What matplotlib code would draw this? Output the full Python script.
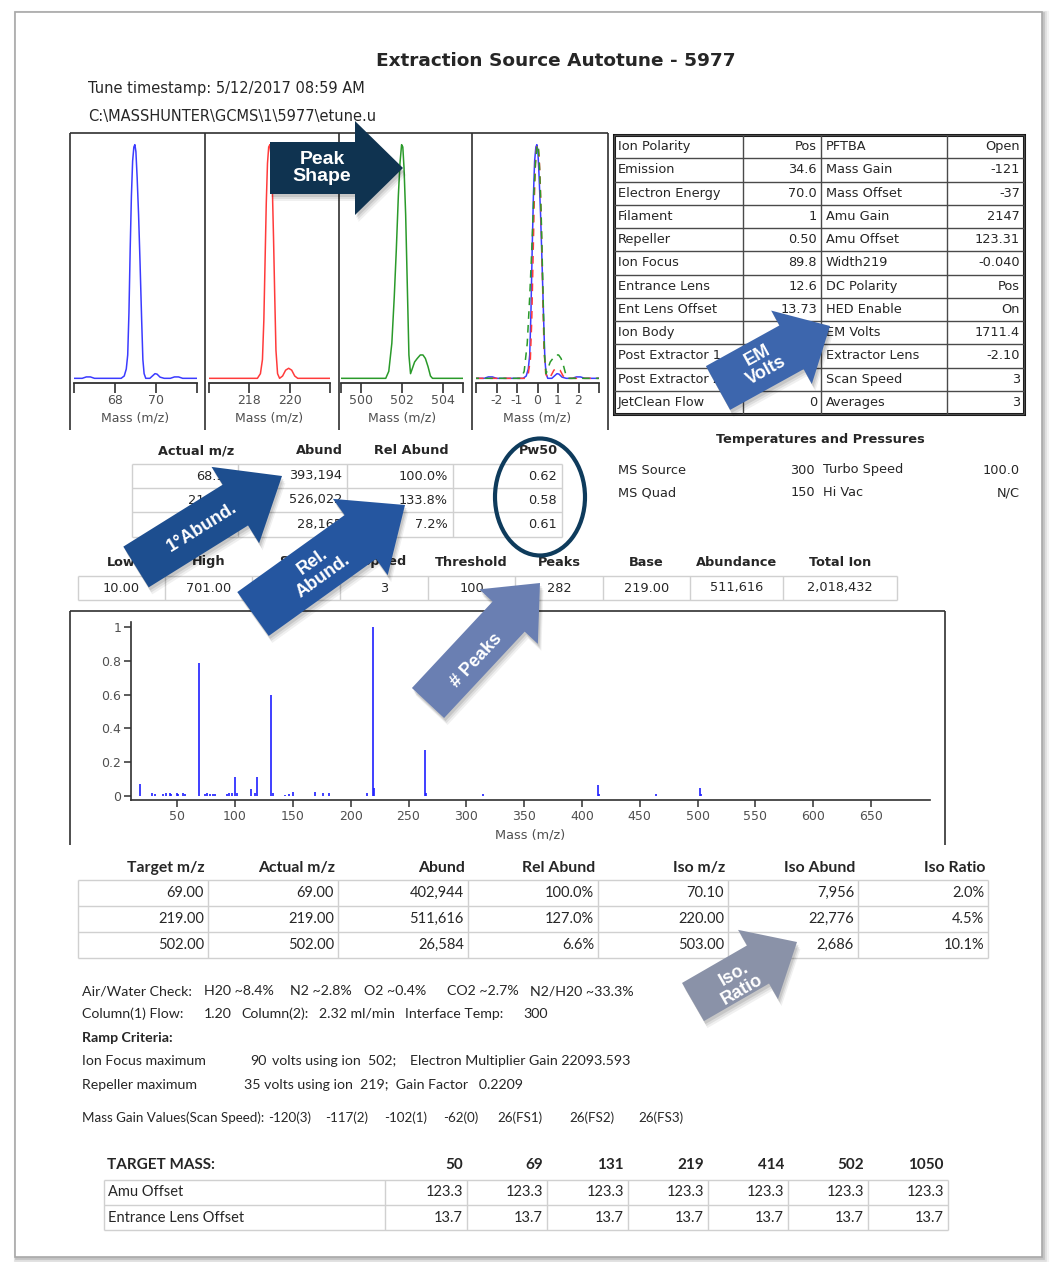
import matplotlib.pyplot as plt
import numpy as np
from matplotlib.patches import Polygon, Ellipse, Rectangle

W, H = 1050, 1262

title = "Extraction Source Autotune - 5977"
tune_stamp = "Tune timestamp: 5/12/2017 08:59 AM"
tune_file = "C:\\MASSHUNTER\\GCMS\\1\\5977\\etune.u"

# peak profiles (mass, normalized intensity)
mz69 = [66.0, 66.4, 66.6, 66.8, 67.0, 67.6, 68.0, 68.3, 68.45, 68.55, 68.62, 68.68, 68.74, 68.8,
        68.86, 68.92, 68.97, 69.02, 69.08, 69.15, 69.22, 69.3, 69.36, 69.42, 69.5, 69.7, 69.85,
        69.95, 70.05, 70.2, 70.4, 70.7, 70.9, 71.1, 71.3, 72.0]
y69 = [0, 0, 0.006, 0.006, 0, 0, 0, 0, 0.01, 0.04, 0.1, 0.28, 0.55, 0.78, 0.93, 0.99, 1.0, 0.97,
       0.86, 0.7, 0.5, 0.25, 0.08, 0.02, 0, 0, 0.012, 0.02, 0.018, 0.005, 0, 0, 0.006, 0.006, 0, 0]

mz219 = [216.0, 216.5, 217.0, 217.5, 218.0, 218.4, 218.55, 218.65, 218.72, 218.78, 218.84, 218.9,
         218.96, 219.02, 219.08, 219.14, 219.2, 219.26, 219.32, 219.4, 219.5, 219.65, 219.8, 219.95,
         220.1, 220.25, 220.4, 220.8, 221.2, 222.0]
y219 = [0, 0, 0, 0, 0, 0, 0.02, 0.08, 0.25, 0.5, 0.75, 0.92, 0.99, 1.0, 0.95, 0.82, 0.6, 0.35, 0.12,
        0.02, 0, 0.01, 0.035, 0.043, 0.035, 0.01, 0, 0, 0, 0]

mz502 = [499.0, 499.5, 500.0, 500.5, 501.0, 501.2, 501.35, 501.5, 501.62, 501.72, 501.82, 501.9,
         501.98, 502.04, 502.1, 502.18, 502.26, 502.34, 502.42, 502.5, 502.62, 502.75, 502.9, 503.03,
         503.15, 503.28, 503.4, 503.5, 504.0, 504.5, 505.0]
y502 = [0, 0, 0, 0, 0, 0, 0.03, 0.15, 0.35, 0.55, 0.78, 0.92, 1.0, 0.99, 0.9, 0.7, 0.4, 0.1, 0.02,
        0.04, 0.07, 0.085, 0.1, 0.1, 0.085, 0.05, 0.01, 0, 0, 0, 0]

target_masses = [69, 219, 502]

# scan spectrum
spec_mz = [18, 28, 31, 38, 40, 44, 45, 50, 51, 55, 57, 69, 74, 76, 78, 81, 83, 93, 95, 97, 100,
           102, 114, 117, 119, 131, 133, 143, 147, 150, 169, 176, 181, 214, 219, 220, 264, 265,
           314, 414, 415, 464, 502, 503]
spec_y = [0.07, 0.02, 0.01, 0.012, 0.015, 0.018, 0.01, 0.02, 0.012, 0.015, 0.012, 0.79, 0.012,
          0.015, 0.01, 0.012, 0.01, 0.01, 0.015, 0.02, 0.11, 0.02, 0.04, 0.015, 0.11, 0.60, 0.02,
          0.008, 0.01, 0.025, 0.025, 0.015, 0.015, 0.015, 1.0, 0.045, 0.27, 0.02, 0.01, 0.065,
          0.01, 0.01, 0.047, 0.01]

# tune parameters (values hidden under the arrow left blank)
tune_names_l = ["Ion Polarity", "Emission", "Electron Energy", "Filament", "Repeller", "Ion Focus",
                "Entrance Lens", "Ent Lens Offset", "Ion Body", "Post Extractor 1",
                "Post Extractor 2", "JetClean Flow"]
tune_vals_l = ["Pos", "34.6", "70.0", "1", "0.50", "89.8", "12.6", "13.73", "", "", "", "0"]
tune_names_r = ["PFTBA", "Mass Gain", "Mass Offset", "Amu Gain", "Amu Offset", "Width219",
                "DC Polarity", "HED Enable", "EM Volts", "Extractor Lens", "Scan Speed", "Averages"]
tune_vals_r = ["Open", "-121", "-37", "2147", "123.31", "-0.040", "Pos", "On", "1711.4", "-2.10",
               "3", "3"]

temp_names = ["MS Source", "MS Quad"]
temp_vals = ["300", "150"]
press_names = ["Turbo Speed", "Hi Vac"]
press_vals = ["100.0", "N/C"]

peak_headers = ["Actual m/z", "Abund", "Rel Abund", "Pw50"]
peak_actual = ["68.95", "218.95", "501.95"]
peak_abund = ["393,194", "526,022", "28,165"]
peak_rel = ["100.0%", "133.8%", "7.2%"]
peak_pw50 = ["0.62", "0.58", "0.61"]

scan_headers = ["Low", "High", "Step", "Speed", "Threshold", "Peaks", "Base", "Abundance", "Total Ion"]
scan_vals = ["10.00", "701.00", "0.10", "3", "100", "282", "219.00", "511,616", "2,018,432"]

iso_headers = ["Target m/z", "Actual m/z", "Abund", "Rel Abund", "Iso m/z", "Iso Abund", "Iso Ratio"]
iso_rows = [
    ["69.00", "69.00", "402,944", "100.0%", "70.10", "7,956", "2.0%"],
    ["219.00", "219.00", "511,616", "127.0%", "220.00", "22,776", "4.5%"],
    ["502.00", "502.00", "26,584", "6.6%", "503.00", "2,686", "10.1%"],
]

target_mass = ["50", "69", "131", "219", "414", "502", "1050"]
amu_offset = ["123.3"] * 7
ent_lens_offset = ["13.7"] * 7

UP = "DejaVu Sans"
LOW = "Lato"
INK = "#262626"
FS = 9.3
LFS = 10.2

fig = plt.figure(figsize=(W / 100, H / 100), dpi=100)
fig.patch.set_facecolor("white")
page = fig.add_axes([0, 0, 1, 1])
page.set_xlim(0, W)
page.set_ylim(H, 0)
page.axis("off")


def px_axes(x0, y0, x1, y1):
    ax = fig.add_axes([x0 / W, 1 - y1 / H, (x1 - x0) / W, (y1 - y0) / H])
    ax.set_facecolor("none")
    return ax


def txt(x, y, s, ha="left", size=FS, weight="normal", family=UP, color=INK):
    page.text(x, y, s, ha=ha, va="center", fontsize=size, fontweight=weight,
              family=family, color=color)


def hline(x0, x1, y, color, lw=1.0):
    page.plot([x0, x1], [y, y], color=color, lw=lw, solid_capstyle="butt")


def vline(x, y0, y1, color, lw=1.0):
    page.plot([x, x], [y0, y1], color=color, lw=lw, solid_capstyle="butt")


def grid(xs, ys, color="#d0d0d0", lw=1.0):
    for x in xs:
        vline(x, ys[0], ys[-1], color, lw)
    for y in ys:
        hline(xs[0], xs[-1], y, color, lw)


# page with shadow
for k, a in [(6, 0.05), (4, 0.08), (2, 0.12)]:
    page.add_patch(Rectangle((15 + k * 0.5, 12 + k * 0.5), 1027, 1245, fc="none",
                             ec="black", lw=k, alpha=a))
page.add_patch(Rectangle((15, 12), 1027, 1245, fc="white", ec="#a8a8a8", lw=1.2))

# header
txt(556, 61, title, ha="center", size=13.3, weight="bold")
txt(88, 89, tune_stamp, size=10.5)
txt(88, 116, tune_file, size=10.5)

# ---- peak shape panels ----
hline(70, 608, 133, "#303030", 1.2)
for x in [70, 205, 339, 472, 608]:
    vline(x, 133, 430, "#303030", 1.2)

profiles = [(mz69, y69, "#3b3bff"), (mz219, y219, "#ff3b3b"), (mz502, y502, "#2a9a2a")]
panel_px = [(74, 197), (209, 330), (341, 463), (476, 599)]
panel_lim = [(66, 72), (216, 222), (499, 505), (-3, 3)]
panel_ticks = [[66, 68, 70, 72], [216, 218, 220, 222], [499, 500, 502, 504, 505],
               [-3, -2, -1, 0, 1, 2, 3]]
panel_labels = [["", "68", "70", ""], ["", "218", "220", ""], ["", "500", "502", "504", ""],
                ["", "-2", "-1", "0", "1", "2", ""]]

for i, (x0, x1) in enumerate(panel_px):
    ax = px_axes(x0, 140, x1, 383)
    if i < 3:
        mz, yy, c = profiles[i]
        ax.plot(mz, yy, color=c, lw=1.1)
    else:
        styles = ["-", (0, (5, 4)), (3, (5, 4))]
        for (mz, yy, c), tm, ls in zip(profiles, target_masses, styles):
            ax.plot(np.array(mz) - tm, yy, color=c, lw=1.1, ls=ls)
    ax.set_xlim(*panel_lim[i])
    ax.set_ylim(-0.02, 1.02)
    ax.set_yticks([])
    ax.set_xticks(panel_ticks[i])
    ax.set_xticklabels(panel_labels[i])
    for s in ["top", "left", "right"]:
        ax.spines[s].set_visible(False)
    ax.spines["bottom"].set_color("#303030")
    ax.spines["bottom"].set_linewidth(1.3)
    ax.tick_params(axis="x", length=7, width=1.2, color="#303030", labelsize=9,
                   labelcolor="#505050", pad=1)
    ax.set_xlabel("Mass (m/z)", fontsize=9, color="#505050", labelpad=3)

# ---- tune parameter table ----
tx = [614, 743, 821, 947, 1024]
ty = [135 + 23.25 * i for i in range(13)]
grid(tx, ty, color="#4a4a4a", lw=1.0)
page.add_patch(Rectangle((614, 135), 410, 279, fc="none", ec="#111111", lw=2.2))
for i in range(12):
    yc = (ty[i] + ty[i + 1]) / 2
    txt(tx[0] + 4, yc, tune_names_l[i])
    txt(tx[2] - 4, yc, tune_vals_l[i], ha="right")
    txt(tx[2] + 5, yc, tune_names_r[i])
    txt(tx[4] - 4, yc, tune_vals_r[i], ha="right")

# temperatures and pressures
txt(820, 439, "Temperatures and Pressures", ha="center", weight="bold")
for i, yc in enumerate([470, 493]):
    txt(618, yc, temp_names[i])
    txt(815, yc, temp_vals[i], ha="right")
    txt(823, yc, press_names[i])
    txt(1020, yc, press_vals[i], ha="right")

# ---- peak table ----
px = [132, 238, 347, 453, 562]
py = [464, 488, 512, 537]
grid(px, py)
for j, h in enumerate(peak_headers):
    txt(px[j + 1] - 4, 451, h, ha="right", weight="bold")
for i in range(3):
    yc = (py[i] + py[i + 1]) / 2
    for j, col in enumerate([peak_actual, peak_abund, peak_rel, peak_pw50]):
        txt(px[j + 1] - 5, yc, col[i], ha="right")

# ---- scan parameter table ----
sx = [78, 165, 252, 340, 428, 515, 603, 690, 783, 897]
sy = [576, 600]
grid(sx, sy)
for j in range(9):
    xc = (sx[j] + sx[j + 1]) / 2
    txt(xc, 562, scan_headers[j], ha="center", weight="bold")
    txt(xc, 588, scan_vals[j], ha="center")

# ---- spectrum ----
hline(70, 945, 611, "#303030", 1.2)
vline(70, 611, 845, "#303030", 1.2)
vline(945, 611, 845, "#303030", 1.2)
ax = px_axes(131, 622, 930, 800)
ax.vlines(spec_mz, 0, spec_y, color="#1f1fff", lw=1.2)
ax.set_xlim(10, 701)
ax.set_ylim(-0.024, 1.03)
ax.set_xticks(range(50, 700, 50))
ax.set_yticks([0, 0.2, 0.4, 0.6, 0.8, 1.0])
ax.set_yticklabels(["0", "0.2", "0.4", "0.6", "0.8", "1"])
for s in ["top", "right"]:
    ax.spines[s].set_visible(False)
for s in ["left", "bottom"]:
    ax.spines[s].set_color("#303030")
    ax.spines[s].set_linewidth(1.2)
ax.tick_params(length=5, width=1.1, color="#303030", labelsize=9, labelcolor="#505050", pad=2)
ax.set_xlabel("Mass (m/z)", fontsize=9.3, color="#505050", labelpad=4)

# ---- isotope table ----
ix = [78, 208, 338, 468, 598, 728, 858, 988]
iy = [880, 906, 932, 958]
grid(ix, iy)
for j, h in enumerate(iso_headers):
    txt(ix[j + 1] - 3, 868, h, ha="right", weight="bold", family=LOW, size=11.3)
for i, row in enumerate(iso_rows):
    yc = (iy[i] + iy[i + 1]) / 2
    for j, v in enumerate(row):
        txt(ix[j + 1] - 4, yc, v, ha="right", family=LOW, size=10.5)

# ---- text block ----
text_lines = [
    (991, LFS, [(82, "Air/Water Check:"), (204, "H20 ~8.4%"), (290, "N2 ~2.8%"),
                (364, "O2 ~0.4%"), (447, "CO2 ~2.7%"), (530, "N2/H20 ~33.3%")]),
    (1014, LFS, [(82, "Column(1) Flow:"), (204, "1.20"), (241, "Column(2):"),
                 (319, "2.32 ml/min"), (405, "Interface Temp:"), (523, "300")]),
    (1061, LFS, [(82, "Ion Focus maximum"), (250, "90"), (272, "volts using ion  502;"),
                 (410, "Electron Multiplier Gain 22093.593")]),
    (1085, LFS, [(82, "Repeller maximum"),
                 (244, "35 volts using ion  219;  Gain Factor   0.2209")]),
    (1118, 9.6, [(82, "Mass Gain Values(Scan Speed):"), (268, "-120(3)"), (325, "-117(2)"),
                 (384, "-102(1)"), (443, "-62(0)"), (497, "26(FS1)"), (569, "26(FS2)"),
                 (638, "26(FS3)")]),
]
for yc, size, parts in text_lines:
    for x, s in parts:
        txt(x, yc, s, family=LOW, size=size)
txt(82, 1038, "Ramp Criteria:", family=LOW, size=LFS, weight="bold")

# ---- target mass table ----
gx = [104, 385, 467, 547, 628, 708, 788, 868, 948]
gy = [1180, 1205, 1230]
grid(gx, gy)
txt(107, 1165, "TARGET MASS:", weight="bold", family=LOW, size=11)
txt(108, 1192, "Amu Offset", family=LOW, size=10.5)
txt(108, 1218, "Entrance Lens Offset", family=LOW, size=10.5)
for j in range(7):
    xr = gx[j + 2] - 4
    txt(xr, 1165, target_mass[j], ha="right", weight="bold", family=LOW, size=11)
    txt(xr, 1192, amu_offset[j], ha="right", family=LOW, size=10.5)
    txt(xr, 1218, ent_lens_offset[j], ha="right", family=LOW, size=10.5)

# ---- callout overlay ----
over = fig.add_axes([0, 0, 1, 1], zorder=10)
over.set_xlim(0, W)
over.set_ylim(H, 0)
over.set_facecolor("none")
over.axis("off")


def block_arrow(tail, tip, bhw, hhw, hl, color, label, center, size=13):
    tail = np.array(tail, float)
    tip = np.array(tip, float)
    d = tip - tail
    u = d / np.hypot(*d)
    n = np.array([-u[1], u[0]])
    neck = tip - u * hl
    pts = np.array([tail + n * bhw, neck + n * bhw, neck + n * hhw, tip,
                    neck - n * hhw, neck - n * bhw, tail - n * bhw])
    for k, a in [(7, 0.06), (5, 0.08), (3, 0.1)]:
        over.add_patch(Polygon(pts + [k * 0.5, k], closed=True, fc="black", ec="none", alpha=a))
    over.add_patch(Polygon(pts, closed=True, fc=color, ec="none"))
    ang = np.degrees(np.arctan2(-d[1], d[0]))
    over.text(center[0], center[1], label, rotation=ang, rotation_mode="anchor", ha="center",
              va="center", color="white", fontsize=size, fontweight="bold",
              family="Liberation Sans", linespacing=1.05)


block_arrow((270, 168), (403, 168), 26, 47, 48, "#0f3350", "Peak\nShape", (322, 168), size=14)
block_arrow((718, 388), (830, 326), 25, 42, 44, "#3d66ad", "EM\nVolts", (762, 363), size=13)
block_arrow((136, 567), (282, 476), 24, 45, 55, "#1d4e8f", "1°Abund.", (202, 527), size=13)
block_arrow((253, 614), (405, 505), 27, 47, 55, "#2556a0", "Rel.\nAbund.", (318, 569), size=13)
block_arrow((428, 703), (540, 583), 22, 40, 46, "#6a7fb2", "# Peaks", (477, 660), size=13)
block_arrow((693, 1002), (797, 942), 22, 40, 45, "#8a92a8", "Iso.\nRatio", (738, 982), size=13)
over.add_patch(Ellipse((540, 497), 90, 117, fc="none", ec="#0e3b5c", lw=3))

fig.savefig("out.png", dpi=100, facecolor="white")
